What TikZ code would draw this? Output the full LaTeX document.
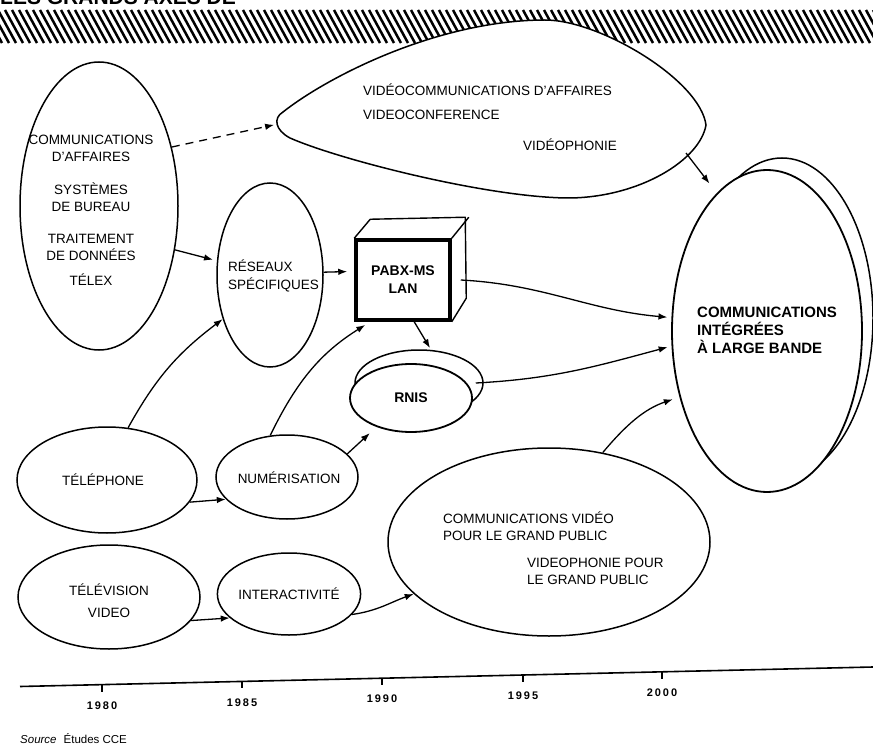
\documentclass[tikz,border=0pt]{standalone}
\usepackage{fontspec}
\setmainfont{Liberation Sans}
\newfontfamily\axisfont[LetterSpace=18]{Liberation Sans}
\usetikzlibrary{arrows.meta,shapes.geometric}
\begin{document}
\begin{tikzpicture}[x=1pt,y=-1pt,
  oval/.style={draw, ellipse, line width=1.5pt, fill=white, inner sep=0pt},
  arr/.style={line width=1.3pt, -{Latex[length=9pt,width=6.5pt]}},
  txt/.style={font=\fontsize{13.5}{17}\selectfont, inner sep=0pt},
  btxt/.style={font=\bfseries\fontsize{14}{18}\selectfont, inner sep=0pt},
  yr/.style={font=\axisfont\bfseries\fontsize{11}{13}\selectfont, inner sep=0pt}
]
\useasboundingbox (0,0) rectangle (873,746);
\clip (0,0) rectangle (873,746);

% partial title and hatched band
\node[anchor=base west, font=\bfseries\fontsize{21}{21}\selectfont, inner sep=0pt] (title) at (0,5) {LES GRANDS AXES DE};
\foreach \x in {-30,-23,...,880} {\draw[line width=2.5pt] (\x,10) -- ++(18,33);}

% video blob
\draw[line width=1.5pt, fill=white]
  (283,112) .. controls (330,75) and (440,20) .. (545,20)
  .. controls (600,20) and (700,80) .. (706,125)
  .. controls (700,160) and (640,197) .. (570,198)
  .. controls (490,198) and (340,160) .. (290,138)
  .. controls (275,130) and (273,118) .. (283,112);
\coordinate (vidw) at (278,124);
\coordinate (vidse) at (686,153);
\node[txt, anchor=west] (v1) at (363,90) {VIDÉOCOMMUNICATIONS D'AFFAIRES};
\node[txt, anchor=west] (v2) at (363,115) {VIDEOCONFERENCE};
\node[txt, anchor=east] (v3) at (617,145) {VIDÉOPHONIE};

% left big ellipse
\node[oval, minimum width=158, minimum height=288] (aff) at (99,206) {};
\node[txt, align=center] (a1) at (91,148.5) {COMMUNICATIONS\\D'AFFAIRES};
\node[txt, align=center] (a2) at (91,197) {SYSTÈMES\\DE BUREAU};
\node[txt, align=center] (a3) at (91,247.5) {TRAITEMENT\\DE DONNÉES};
\node[txt] (a4) at (91,280) {TÉLEX};

% reseaux
\node[oval, minimum width=106, minimum height=184] (res) at (270,275) {};
\node[txt, anchor=west, align=left, font=\fontsize{13.5}{18}\selectfont] (rt) at (228,276) {RÉSEAUX\\SPÉCIFIQUES};

% PABX box
\node[draw, line width=3.5pt, fill=white, minimum width=94, minimum height=80, inner sep=0pt, align=center, font=\bfseries\fontsize{14}{18}\selectfont] (pabx) at (403,280) {PABX-MS\\LAN};
\draw[line width=1.4pt, line join=round] (pabx.north west) -- ++(16,-19) -- ++(95,-2) -- ++(1,81) -- (pabx.south east);
\draw[line width=1.4pt] (pabx.north east) -- ++(17,-21);

% RNIS
\node[oval, minimum width=128, minimum height=66] (rnisb) at (419,383) {};
\node[oval, minimum width=122, minimum height=68, line width=1.8pt, btxt] (rnis) at (411,398) {RNIS};

% telephone, numerisation, television, interactivite
\node[oval, minimum width=180, minimum height=106] (tel) at (107,480) {};
\node[txt] (telt) at (103,480) {TÉLÉPHONE};
\node[oval, minimum width=142, minimum height=84] (num) at (287,477) {};
\node[txt] (numt) at (289,478) {NUMÉRISATION};
\node[oval, minimum width=182, minimum height=104] (tv) at (109,597) {};
\node[txt, align=center, font=\fontsize{13.5}{22}\selectfont] (tvt) at (109,601) {TÉLÉVISION\\VIDEO};
\node[oval, minimum width=142, minimum height=82, txt] (inter) at (289,594) {INTERACTIVITÉ};

% grand public
\node[oval, minimum width=322, minimum height=188] (gp) at (549,542) {};
\node[txt, anchor=west, align=left] (g1) at (443,526.5) {COMMUNICATIONS VIDÉO\\POUR LE GRAND PUBLIC};
\node[txt, anchor=west, align=left] (g2) at (527,571.5) {VIDEOPHONIE POUR\\LE GRAND PUBLIC};

% big ellipse
\node[oval, minimum width=182, minimum height=320] (bigb) at (782,318) {};
\node[oval, minimum width=190, minimum height=322, line width=1.8pt] (big) at (767,331) {};
\node[anchor=west, align=left, inner sep=0pt, font=\bfseries\fontsize{15}{18}\selectfont] (bt) at (697,330) {COMMUNICATIONS\\INTÉGRÉES\\À LARGE BANDE};

% connectors
\draw[arr, dash pattern=on 8pt off 6pt, shorten >=4pt] (aff.39) -- (vidw);
\draw[arr, shorten >=4pt] (aff.330) -- (res.165);
\draw[arr, shorten >=7pt] (res.3) -- (pabx.170);
\draw[arr] (tel.68) to[out=61,in=217] (res.223);
\draw[arr] (tel.345) -- (num.200);
\draw[arr, shorten >=6pt] (num.112) to[out=64,in=212] (pabx.232);
\draw[arr, shorten >=9pt] (num.21) -- (rnis.220);
\draw[arr, shorten >=2pt] (pabx.285) -- (rnisb.70);
\draw[arr, shorten >=4pt] ([xshift=9pt]pabx.east) to[out=-3,in=175] (big.172);
\draw[arr, shorten >=4pt] ([xshift=-8pt]rnisb.east) to[out=3,in=195] (big.189);
\draw[arr] (tv.344) -- (inter.202);
\draw[arr] (inter.342) to[out=8,in=200] (gp.201);
\draw[arr, shorten >=7pt] (gp.59) to[out=50,in=199] (big.217);
\draw[arr, shorten >=12pt] (vidse) -- (big.110);

% time axis
\coordinate (ax0) at (20,686.5);
\coordinate (ax1) at (873,667);
\draw[line width=1.6pt] (ax0) -- (ax1);
\foreach \x/\y/\lab in {102/684.6/1980, 242/681.4/1985, 382/678.2/1990, 523/675/1995, 662/671.8/2000} {
  \draw[line width=1.2pt] (\x,\y) -- ++(0,7);
  \node[yr] at (\x,\y+21) {\lab};
}

% source
\node[anchor=west, inner sep=0pt, font=\fontsize{11.5}{13}\selectfont] (src) at (20,739) {\textit{Source}\hspace{7pt}Études CCE};
\end{tikzpicture}
\end{document}
